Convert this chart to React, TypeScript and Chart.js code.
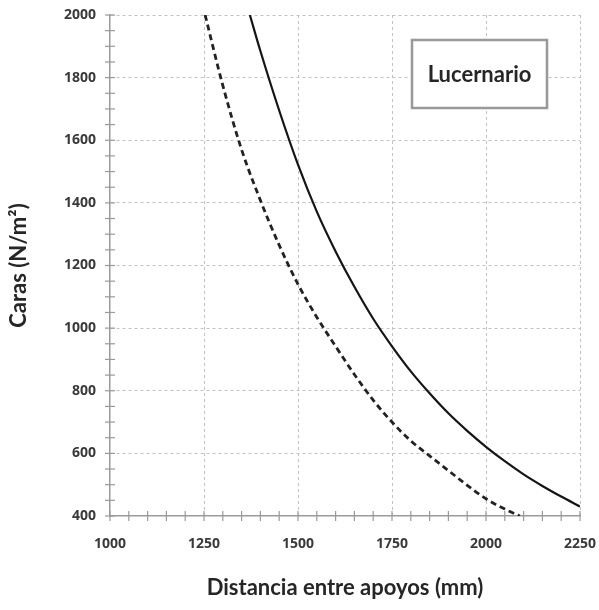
import React, { useEffect, useRef } from "react";
import { Chart, registerables } from "chart.js";

Chart.register(...registerables);

// Distance between supports (mm) and loads (N/m²)
const solidX = [1372, 1400, 1450, 1500, 1550, 1600, 1650, 1700, 1750, 1800, 1850, 1900, 1950, 2000, 2050, 2100, 2150, 2200, 2250];
const solidY = [2000, 1885, 1695, 1522, 1372, 1245, 1132, 1030, 942, 862, 792, 728, 672, 621, 575, 533, 496, 462, 430];
const dashedX = [1253, 1300, 1350, 1400, 1450, 1500, 1550, 1600, 1650, 1700, 1750, 1800, 1850, 1900, 1950, 2000, 2050, 2090];
const dashedY = [2000, 1775, 1570, 1408, 1265, 1140, 1035, 942, 852, 770, 700, 640, 592, 545, 498, 455, 422, 400];

const xMin = 1000;
const xMax = 2250;
const xMajor = 250;
const yMin = 400;
const yMax = 2000;
const yMajor = 200;
const minorStep = 50;

const legendText = "Lucernario";
const xTitle = "Distancia entre apoyos (mm)";
const yTitle = "Caras (N/m²)";

const tickFont = { family: "'Open Sans', sans-serif", size: 14, weight: "bold" as const };
const titleFont = { family: "Lato, sans-serif", size: 22, weight: "bold" as const };

const crossTicks = {
  id: "crossTicks",
  afterDraw(chart: any) {
    const { ctx, chartArea, scales } = chart;
    ctx.save();
    ctx.strokeStyle = "#9a9a9a";
    ctx.lineWidth = 1.2;
    ctx.setLineDash([]);
    const xs = scales.x;
    for (const t of xs.ticks) {
      const px = xs.getPixelForValue(t.value);
      ctx.beginPath();
      ctx.moveTo(px, chartArea.bottom - 5);
      ctx.lineTo(px, chartArea.bottom + 5);
      ctx.stroke();
    }
    const ys = scales.y;
    for (const t of ys.ticks) {
      const py = ys.getPixelForValue(t.value);
      ctx.beginPath();
      ctx.moveTo(chartArea.left - 5, py);
      ctx.lineTo(chartArea.left + 5, py);
      ctx.stroke();
    }
    // legend box
    const bx = chartArea.right - 168;
    const by = chartArea.top + 25;
    const bw = 135;
    const bh = 68;
    ctx.fillStyle = "#ffffff";
    ctx.fillRect(bx, by, bw, bh);
    ctx.strokeStyle = "#c8c8c8";
    ctx.lineWidth = 3;
    ctx.strokeRect(bx, by, bw, bh);
    ctx.strokeStyle = "#8a8a8a";
    ctx.lineWidth = 1.5;
    ctx.strokeRect(bx, by, bw, bh);
    ctx.fillStyle = "#262626";
    ctx.font = "bold 22px Lato, sans-serif";
    ctx.textAlign = "center";
    ctx.textBaseline = "middle";
    ctx.fillText(legendText, bx + bw / 2, by + bh / 2 + 1);
    ctx.restore();
  },
};

export default function App() {
  const ref = useRef<HTMLCanvasElement | null>(null);

  useEffect(() => {
    if (!ref.current) return;
    const chart = new Chart(ref.current, {
      type: "line",
      data: {
        datasets: [
          {
            label: "solid",
            data: solidX.map((x, i) => ({ x, y: solidY[i] })),
            borderColor: "#151515",
            borderWidth: 2.2,
            pointRadius: 0,
            fill: false,
            cubicInterpolationMode: "monotone",
          },
          {
            label: "dashed",
            data: dashedX.map((x, i) => ({ x, y: dashedY[i] })),
            borderColor: "#222222",
            borderWidth: 2.8,
            borderDash: [6, 4],
            pointRadius: 0,
            fill: false,
            cubicInterpolationMode: "monotone",
          },
        ],
      },
      options: {
        animation: false,
        responsive: true,
        maintainAspectRatio: false,
        layout: { padding: { top: 15, right: 19, left: 0, bottom: 0 } },
        plugins: { legend: { display: false }, tooltip: { enabled: false } },
        scales: {
          x: {
            type: "linear",
            min: xMin,
            max: xMax,
            afterFit: (s: any) => {
              s.height = 94;
              s.paddingLeft = 0;
              s.paddingRight = 0;
            },
            ticks: {
              stepSize: minorStep,
              maxTicksLimit: 100,
              autoSkip: false,
              maxRotation: 0,
              padding: 20,
              color: "#3a3a3a",
              font: tickFont,
              callback: (v: any) => (Number(v) % xMajor === 0 ? String(v) : ""),
            },
            grid: {
              drawTicks: false,
              color: (c: any) =>
                c.tick && c.tick.value % xMajor === 0 && c.tick.value !== xMin ? "#c2c2c2" : "rgba(0,0,0,0)",
              lineWidth: 1,
            },
            border: { display: true, color: "#9a9a9a", width: 1.5, dash: [3, 3] },
            title: {
              display: true,
              text: xTitle,
              color: "#262626",
              font: titleFont,
              padding: { top: 6, bottom: 9 },
            },
          },
          y: {
            type: "linear",
            min: yMin,
            max: yMax,
            afterFit: (s: any) => {
              s.width = 110;
              s.paddingTop = 0;
              s.paddingBottom = 0;
            },
            ticks: {
              stepSize: minorStep,
              maxTicksLimit: 100,
              autoSkip: false,
              padding: 14,
              color: "#3a3a3a",
              font: tickFont,
              callback: (v: any) => (Number(v) % yMajor === 0 ? String(v) : ""),
            },
            grid: {
              drawTicks: false,
              color: (c: any) =>
                c.tick && c.tick.value % yMajor === 0 && c.tick.value !== yMin ? "#c2c2c2" : "rgba(0,0,0,0)",
              lineWidth: 1,
            },
            border: { display: true, color: "#9a9a9a", width: 1.5, dash: [3, 3] },
            title: {
              display: true,
              text: yTitle,
              color: "#262626",
              font: titleFont,
              padding: { top: 6, bottom: 9 },
            },
          },
        },
      },
      plugins: [crossTicks],
    });
    return () => chart.destroy();
  }, []);

  return (
    <div style={{ position: "absolute", left: 0, top: 0, width: 599, height: 610, background: "#fff" }}>
      <canvas ref={ref} />
    </div>
  );
}
